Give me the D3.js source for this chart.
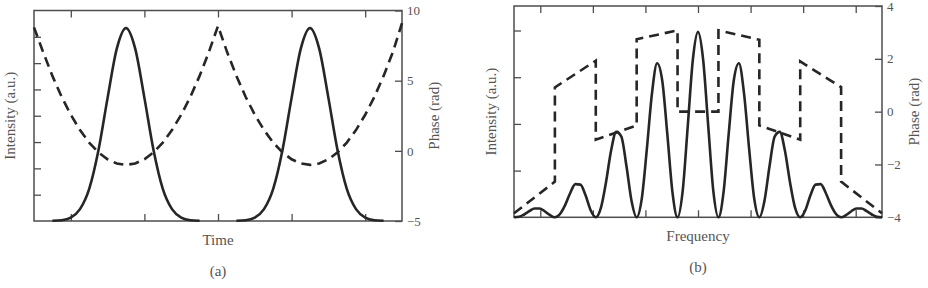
<!DOCTYPE html>
<html>
<head>
<meta charset="utf-8">
<script src="https://cdn.jsdelivr.net/npm/d3@7"></script>
<style>
  body { margin: 0; background: #fff; }
  svg { display: block; }
</style>
</head>
<body>
<main></main>
<script>
// ---- panel (a): pulse pair in time ----
var timeTicks = [-2, -1, 0, 1, 2]
var intensATicks = [1, 2, 3, 4, 5, 6, 7]
var phaseATicks = [-5, 0, 5, 10]

// intensity samples, time step 0.125, null = gap between pulses
var pulseTime = d3.range(-2.25, 2.25 + 0.01, 0.125)
var pulseA = [0.01, 0.03, 0.13, 0.45, 1.22, 2.68, 4.68, 6.55, 7.33, 6.55, 4.68, 2.68, 1.22, 0.45, 0.13, 0.03, 0.01,
              null, null, null,
              0.01, 0.03, 0.13, 0.45, 1.22, 2.68, 4.68, 6.55, 7.33, 6.55, 4.68, 2.68, 1.22, 0.45, 0.13, 0.03, 0.01]

// phase samples, time step 0.125
var phaseTime = d3.range(-2.5, 2.5 + 0.01, 0.125)
var phaseA = [8.8, 7.02, 5.34, 3.85, 2.57, 1.48, 0.59, -0.11, -0.60, -0.90, -1.0, -0.90, -0.60, -0.11, 0.59, 1.48, 2.57, 3.85, 5.34, 7.02,
              8.9, 7.02, 5.34, 3.85, 2.57, 1.48, 0.59, -0.11, -0.60, -0.90, -1.0, -0.90, -0.60, -0.11, 0.59, 1.48, 2.57, 3.85, 5.34, 7.02, 9.1]

// ---- panel (b): spectrum ----
var freqTicks = [-3.857, -2.571, -1.286, 0, 1.286, 2.571, 3.857]
var intensBTicks = [1, 2, 3, 4]
var phaseBTicks = [-4, -2, 0, 2, 4]

// spectral intensity, frequency step 0.125 (fringe spacing = 1)
var specFreq = d3.range(-4.5, 4.5 + 0.01, 0.125)
var specB = [0, 0.01, 0.06, 0.13, 0.19, 0.19, 0.13, 0.05, 0, 0.07, 0.26, 0.52, 0.71, 0.70, 0.47, 0.15,
             0, 0.20, 0.75, 1.43, 1.83, 1.73, 1.10, 0.35, 0, 0.40, 1.47, 2.66, 3.30, 2.93, 1.78, 0.54,
             0, 0.56, 1.96, 3.38, 3.97, 3.38, 1.96, 0.56,
             0, 0.54, 1.78, 2.93, 3.30, 2.66, 1.47, 0.40, 0, 0.35, 1.10, 1.73, 1.83, 1.43, 0.75, 0.20,
             0, 0.15, 0.47, 0.70, 0.71, 0.52, 0.26, 0.07, 0, 0.05, 0.13, 0.19, 0.19, 0.13, 0.06, 0.01, 0]

// spectral phase, with the jumps at the fringe zeros
var phaseFreq = [-4.5, -3.5, -3.5, -2.5, -2.5, -1.5, -1.5, -0.5, -0.5, 0.5, 0.5, 1.5, 1.5, 2.5, 2.5, 3.5, 3.5, 4.5]
var phaseB = [-3.85, -2.65, 0.92, 1.93, -1.06, -0.52, 2.74, 3.08, 0, 0, 3.08, 2.72, -0.52, -1.06, 1.9, 0.93, -2.65, -3.85]

var font = '"Liberation Serif", "DejaVu Serif", serif'
var ink = '#262626'
var axisGrey = '#4d4d4d'
var textGrey = '#555'

var svg = d3.select('main')
    .append('svg')
    .attr('width', 928)
    .attr('height', 288)
    .style('background', '#fff')

function zip(xs, ys) {
  return xs.map(function(x, i) { return {x: x, y: ys[i]} })
}

function drawPanel(p) {
  var x = p.x, yL = p.yL, yR = p.yR
  var xl = x.range()[0], xr = x.range()[1]
  var yb = yL.range()[0], yt = yL.range()[1]
  var g = svg.append('g')

  function tidy(sel) {
    sel.select('.domain').remove()
    sel.selectAll('.tick line').attr('stroke', axisGrey).attr('stroke-width', 1.3)
    sel.selectAll('.tick text')
        .attr('fill', textGrey)
        .style('font-family', font)
        .style('font-size', '13px')
  }

  g.append('g').attr('transform', 'translate(0,' + yt + ')')
      .call(d3.axisTop(x).tickValues(p.xTicks).tickSizeInner(-7).tickSizeOuter(0).tickFormat(''))
      .call(tidy)
  g.append('g').attr('transform', 'translate(0,' + yb + ')')
      .call(d3.axisBottom(x).tickValues(p.xTicks).tickSizeInner(-7).tickSizeOuter(0).tickFormat(''))
      .call(tidy)
  g.append('g').attr('transform', 'translate(' + xl + ',0)')
      .call(d3.axisLeft(yL).tickValues(p.yLTicks).tickSizeInner(-7).tickSizeOuter(0).tickFormat(''))
      .call(tidy)
  g.append('g').attr('transform', 'translate(' + xr + ',0)')
      .call(d3.axisRight(yR).tickValues(p.yRTicks).tickSizeInner(-7).tickSizeOuter(0).tickPadding(5))
      .call(tidy)

  g.append('rect')
      .attr('x', xl).attr('y', yt)
      .attr('width', xr - xl).attr('height', yb - yt)
      .attr('fill', 'none')
      .attr('stroke', axisGrey)
      .attr('stroke-width', 1.5)

  // phase (dashed)
  g.append('path')
      .datum(p.phase)
      .attr('fill', 'none')
      .attr('stroke', ink)
      .attr('stroke-width', 2.6)
      .attr('stroke-dasharray', '10,6')
      .attr('d', d3.line()
          .x(function(d) { return x(d.x) })
          .y(function(d) { return yR(d.y) }))

  // intensity (solid)
  g.append('path')
      .datum(p.intens)
      .attr('fill', 'none')
      .attr('stroke', ink)
      .attr('stroke-width', 2.6)
      .attr('stroke-linejoin', 'round')
      .attr('d', d3.line()
          .defined(function(d) { return d.y != null })
          .curve(d3.curveMonotoneX)
          .x(function(d) { return x(d.x) })
          .y(function(d) { return yL(d.y) }))

  var cx = (xl + xr) / 2, cy = (yb + yt) / 2
  g.append('text')
      .attr('x', cx).attr('y', yb + 24)
      .attr('text-anchor', 'middle')
      .attr('fill', textGrey)
      .style('font-family', font).style('font-size', '15px')
      .text(p.xLabel)
  g.append('text')
      .attr('x', cx).attr('y', yb + 55)
      .attr('text-anchor', 'middle')
      .attr('fill', textGrey)
      .style('font-family', font).style('font-size', '15px')
      .text(p.tag)
  g.append('text')
      .attr('transform', 'translate(' + p.leftLabelX + ',' + cy + ') rotate(-90)')
      .attr('text-anchor', 'middle')
      .attr('dominant-baseline', 'central')
      .attr('fill', textGrey)
      .style('font-family', font).style('font-size', '15px')
      .text('Intensity (a.u.)')
  g.append('text')
      .attr('transform', 'translate(' + (xr + 32) + ',' + cy + ') rotate(-90)')
      .attr('text-anchor', 'middle')
      .attr('dominant-baseline', 'central')
      .attr('fill', textGrey)
      .style('font-family', font).style('font-size', '15px')
      .text('Phase (rad)')
}

drawPanel({
  x: d3.scaleLinear().domain([-2.5, 2.5]).range([34, 402]),
  yL: d3.scaleLinear().domain([0, 8]).range([221, 10.5]),
  yR: d3.scaleLinear().domain([-5, 10]).range([221, 10.5]),
  xTicks: timeTicks, yLTicks: intensATicks, yRTicks: phaseATicks,
  intens: zip(pulseTime, pulseA),
  phase: zip(phaseTime, phaseA),
  xLabel: 'Time', tag: '(a)', leftLabelX: 10
})

drawPanel({
  x: d3.scaleLinear().domain([-4.5, 4.5]).range([514, 882]),
  yL: d3.scaleLinear().domain([0, 4.525]).range([217.3, 6]),
  yR: d3.scaleLinear().domain([-4, 4]).range([217.3, 6]),
  xTicks: freqTicks, yLTicks: intensBTicks, yRTicks: phaseBTicks,
  intens: zip(specFreq, specB),
  phase: zip(phaseFreq, phaseB),
  xLabel: 'Frequency', tag: '(b)', leftLabelX: 491
})
</script>
</body>
</html>
